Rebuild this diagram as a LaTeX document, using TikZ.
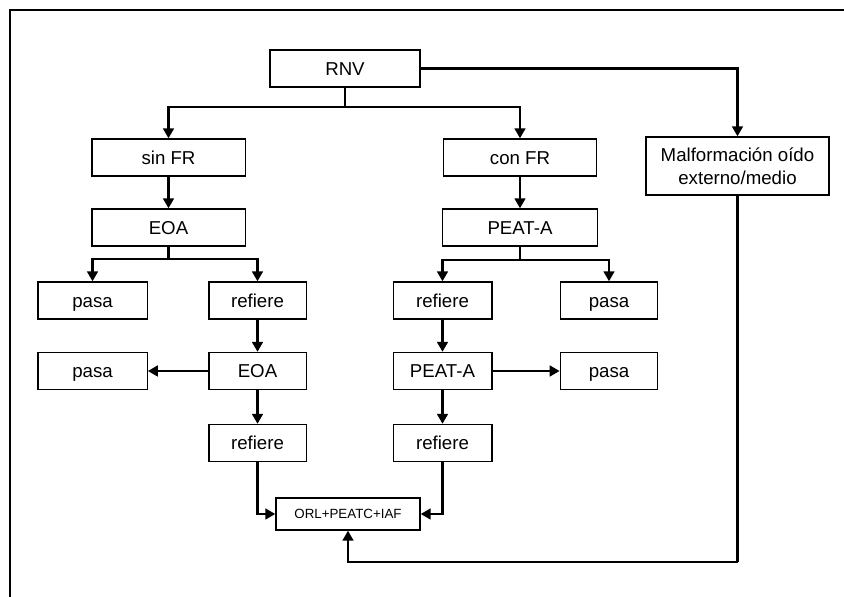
\documentclass[tikz,border=0pt]{standalone}
\usepackage{fontspec}
\setmainfont{Liberation Sans}
\usetikzlibrary{arrows.meta,calc}

\begin{document}
\begin{tikzpicture}[x=0.75pt,y=-0.75pt,
    plainbox/.style={draw,line width=1pt,inner sep=0pt,minimum height=27.75pt,
      font=\fontsize{14pt}{17pt}\selectfont},
    box/.style={plainbox,text height=10pt,text depth=0pt},
    bigbox/.style={box,minimum width=115pt},
    smallbox/.style={box,minimum width=73pt},
    widebox/.style={box,minimum width=82pt},
    arrow/.style={line width=2.2pt,-{Triangle[length=7.5pt,width=8pt]}},
    link/.style={line width=2.2pt}]
  \useasboundingbox (0,0) rectangle (844,597);
  \draw[line width=1pt] (10,597) -- (10,10) -- (844,10);

  % top level
  \node[box,minimum width=112.5pt] (rnv) at (345,68.5) {RNV};
  \node[bigbox] (sinfr) at (168.5,157.5) {sin FR};
  \node[bigbox] (confr) at (520,157.5) {con FR};
  \node[plainbox,align=center,minimum width=137.25pt,minimum height=43.5pt] (malf)
    at (737.5,166) {Malformación oído\\externo/medio};

  % screening
  \node[bigbox] (eoa1) at (168.5,227.5) {EOA};
  \node[bigbox,minimum width=116pt] (peat1) at (520,227.5) {PEAT-A};

  \node[widebox] (pasa1) at (92.5,300.5) {pasa};
  \node[smallbox] (ref1) at (257.5,300.5) {refiere};
  \node[smallbox,minimum width=74pt] (ref2) at (442.5,300.5) {refiere};
  \node[smallbox] (pasa2) at (609,300.5) {pasa};

  \node[widebox] (pasa3) at (92.5,371) {pasa};
  \node[smallbox] (eoa2) at (257.5,371) {EOA};
  \node[smallbox,minimum width=74pt] (peat2) at (442.5,371) {PEAT-A};
  \node[smallbox] (pasa4) at (609,371) {pasa};

  \node[smallbox] (ref3) at (257.5,443) {refiere};
  \node[smallbox,minimum width=74pt] (ref4) at (442.5,443) {refiere};

  \node[box,minimum width=108pt,minimum height=24pt,text height=7.2pt,text depth=0pt,
    font=\fontsize{10pt}{12pt}\selectfont] (orl) at (348,514) {ORL+PEATC+IAF};

  % connectors
  \coordinate (rsplit) at (345,107);
  \coordinate (esplit) at (168.5,259);
  \coordinate (psplit) at (520,260);
  \coordinate (mbot) at (737.5,562);

  \draw[link] (rnv) -- (rsplit);
  \draw[arrow] (rsplit) -| (sinfr);
  \draw[arrow] (rsplit) -| (confr);
  \draw[arrow] (rnv) -| (malf);

  \draw[arrow] (sinfr) -- (eoa1);
  \draw[link] (eoa1) -- (esplit);
  \draw[arrow] (esplit) -| (pasa1);
  \draw[arrow] (esplit) -| (ref1);
  \draw[arrow] (ref1) -- (eoa2);
  \draw[arrow] (eoa2) -- (pasa3);
  \draw[arrow] (eoa2) -- (ref3);
  \draw[arrow] (ref3) |- (orl);

  \draw[arrow] (confr) -- (peat1);
  \draw[link] (peat1) -- (psplit);
  \draw[arrow] (psplit) -| (ref2);
  \draw[arrow] (psplit) -| (pasa2);
  \draw[arrow] (ref2) -- (peat2);
  \draw[arrow] (peat2) -- (pasa4);
  \draw[arrow] (peat2) -- (ref4);
  \draw[arrow] (ref4) |- (orl);

  \draw[link] (malf) -- (mbot);
  \draw[arrow] (mbot) -| (orl);
\end{tikzpicture}
\end{document}
